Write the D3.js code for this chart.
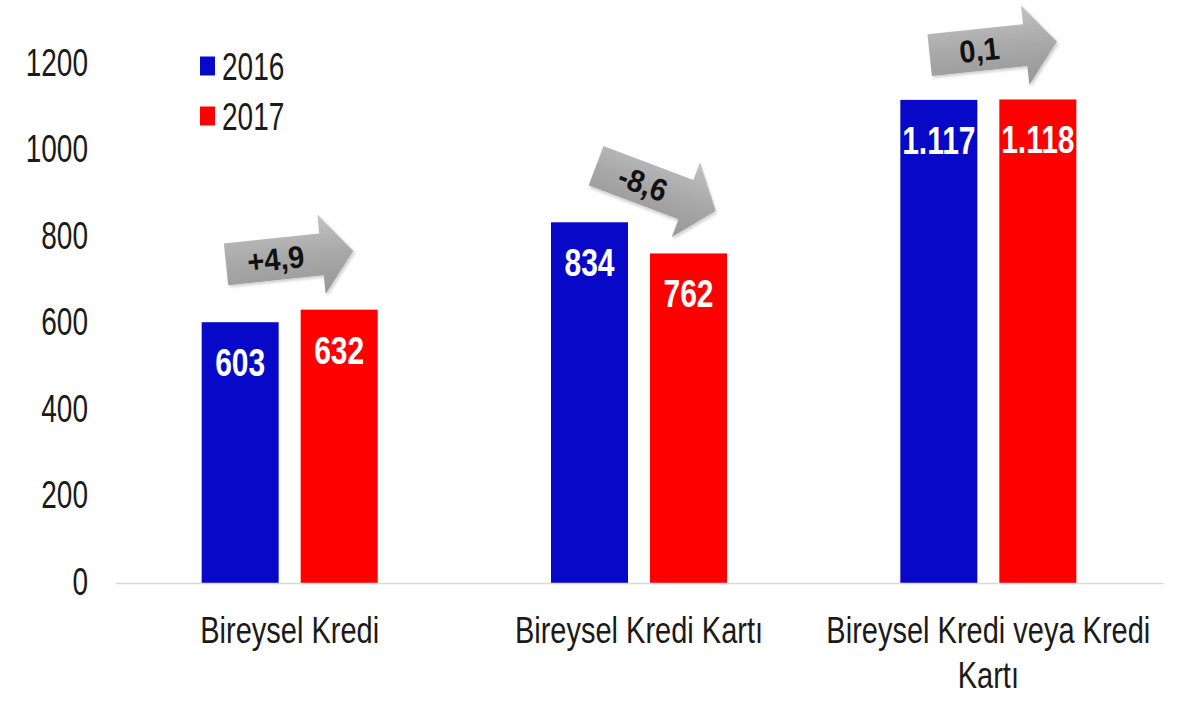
<!DOCTYPE html>
<html>
<head>
<meta charset="utf-8">
<script src="https://cdn.jsdelivr.net/npm/d3@7"></script>
<style>
  html, body { margin: 0; padding: 0; background: #ffffff; }
  svg { display: block; font-family: "Liberation Sans", Arial, sans-serif; }
</style>
</head>
<body>
<svg id="chart" width="1200" height="720"></svg>
<script>
// ---- data ----
const categories = ["Bireysel Kredi", "Bireysel Kredi Kartı", "Bireysel Kredi veya Kredi Kartı"];
const series = ["2016", "2017"];
const values2016 = [603, 834, 1117];
const values2017 = [632, 762, 1118];
const changes = ["+4,9", "-8,6", "0,1"];
const yTicks = [0, 200, 400, 600, 800, 1000, 1200];

// ---- styles / layout ----
const seriesColors = ["#0808c8", "#ff0000"];
const plotLeft = 115, plotRight = 1163, plotBottom = 583, plotTop = 64;
const arrowLayout = [
  { dx: 0,  dy: 52, angle: -6 },
  { dx: 17, dy: 34, angle: 20.7 },
  { dx: 5,  dy: 51, angle: -6 }
];

const svg = d3.select("#chart");
const trFmt = d3.formatLocale({ decimal: ",", thousands: ".", grouping: [3], currency: ["", ""] }).format(",d");

const rows = categories.map((c, i) => ({ cat: c, vals: [values2016[i], values2017[i]] }));

const x0 = d3.scaleBand().domain(categories).range([plotLeft, plotRight]).padding(0);
const groupW = 176;
const x1 = d3.scaleBand().domain(series).range([0, groupW]).paddingInner(22 / 99).paddingOuter(0);
const y = d3.scaleLinear().domain([0, 1200]).range([plotBottom, plotTop]);

// defs
const defs = svg.append("defs");
const grad = defs.append("linearGradient").attr("id", "arrowGrad")
  .attr("x1", 0).attr("y1", 0).attr("x2", 0).attr("y2", 1);
grad.append("stop").attr("offset", "0%").attr("stop-color", "#c2c2c2");
grad.append("stop").attr("offset", "50%").attr("stop-color", "#a8a8a8");
grad.append("stop").attr("offset", "100%").attr("stop-color", "#979797");
const filt = defs.append("filter").attr("id", "shadow").attr("x", "-20%").attr("y", "-20%").attr("width", "150%").attr("height", "160%");
filt.append("feDropShadow").attr("dx", 1.5).attr("dy", 2).attr("stdDeviation", 1.5)
  .attr("flood-color", "#000").attr("flood-opacity", 0.2);

// ---- y axis (labels only) ----
const yAxis = d3.axisLeft(y).tickValues(yTicks).tickSize(0).tickPadding(0).tickFormat(d3.format("d"));
const gy = svg.append("g").attr("transform", `translate(88,0)`).call(yAxis);
gy.select(".domain").remove();
gy.selectAll(".tick text")
  .attr("x", 0).attr("y", 0).attr("dy", null)
  .attr("transform", "translate(0,11) scale(1,1.38)")
  .attr("fill", "#1a1a1a")
  .style("font-size", "28px")
  .style("font-family", "'Liberation Sans', Arial, sans-serif")
  .attr("text-anchor", "end");

// ---- bars ----
const groups = svg.append("g").selectAll("g.grp").data(rows).join("g")
  .attr("class", "grp")
  .attr("transform", d => `translate(${x0(d.cat) + (x0.bandwidth() - groupW) / 2},0)`);

groups.selectAll("rect").data(d => d.vals.map((v, i) => ({ s: series[i], v, i }))).join("rect")
  .attr("x", d => x1(d.s))
  .attr("y", d => y(d.v))
  .attr("width", x1.bandwidth())
  .attr("height", d => y(0) - y(d.v))
  .attr("fill", d => seriesColors[d.i]);

groups.selectAll("text.val").data(d => d.vals.map((v, i) => ({ s: series[i], v, i }))).join("text")
  .attr("class", "val")
  .attr("transform", d => `translate(${x1(d.s) + x1.bandwidth() / 2},${y(d.v) + 54}) scale(1,1.3)`)
  .attr("text-anchor", "middle")
  .attr("fill", "#ffffff")
  .style("font-size", "30px")
  .style("font-weight", "bold")
  .text(d => trFmt(d.v));

// ---- x axis ----
const xAxis = d3.axisBottom(x0).tickSize(0).tickSizeOuter(0).tickPadding(0);
const gx = svg.append("g").attr("transform", `translate(0,${plotBottom})`).call(xAxis);
gx.select(".domain").attr("stroke", "#d9d9d9").attr("stroke-width", 1.5);
gx.selectAll(".tick text").each(function (d) {
  const t = d3.select(this);
  t.text(null).attr("y", 0).attr("dy", null)
    .attr("transform", "translate(0,60) scale(1,1.29)")
    .attr("fill", "#1a1a1a")
    .style("font-size", "29px")
    .style("font-family", "'Liberation Sans', Arial, sans-serif")
    .attr("text-anchor", "middle");
  const words = d.split(" ");
  const maxW = 345;
  let line = [];
  let tspan = t.append("tspan").attr("x", 0).attr("dy", 0);
  words.forEach(w => {
    line.push(w);
    tspan.text(line.join(" "));
    if (tspan.node().getComputedTextLength() > maxW && line.length > 1) {
      line.pop();
      tspan.text(line.join(" "));
      line = [w];
      tspan = t.append("tspan").attr("x", 0).attr("dy", 35).text(w);
    }
  });
});

// ---- change arrows ----
const arrowPath = "M-64,-21 L32,-21 L32,-40 L64,0 L32,40 L32,21 L-64,21 Z";
rows.forEach((r, i) => {
  const L = arrowLayout[i];
  const cx = x0(r.cat) + x0.bandwidth() / 2 + L.dx;
  const cy = y(d3.max(r.vals)) - L.dy;
  const g = svg.append("g").attr("transform", `translate(${cx},${cy}) rotate(${L.angle})`);
  g.append("path").attr("d", arrowPath).attr("fill", "url(#arrowGrad)").attr("filter", "url(#shadow)");
  g.append("text")
    .attr("transform", "translate(-14,11) scale(1,1.08)")
    .attr("text-anchor", "middle")
    .attr("fill", "#111")
    .style("font-size", "29px")
    .style("font-weight", "bold")
    .text(changes[i]);
});

// ---- legend ----
const leg = svg.append("g").selectAll("g").data(series).join("g")
  .attr("transform", (d, i) => `translate(200,${66 + i * 50})`);
leg.append("rect").attr("x", 0).attr("y", -9.5).attr("width", 15).attr("height", 19)
  .attr("fill", (d, i) => seriesColors[i]);
leg.append("text")
  .attr("transform", "translate(22,14) scale(1,1.38)")
  .attr("fill", "#1a1a1a")
  .style("font-size", "28px")
  .text(d => d);
</script>
</body>
</html>
